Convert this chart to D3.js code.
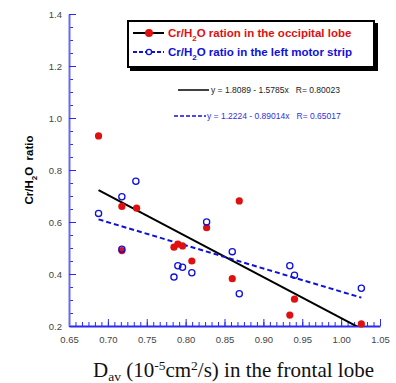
<!DOCTYPE html>
<html>
<head>
<meta charset="utf-8">
<script src="https://cdn.jsdelivr.net/npm/d3@7"></script>
<style>
  body { margin: 0; background: #fff; }
  text { font-family: "Liberation Sans", Arial, sans-serif; }
</style>
</head>
<body>
<div id="chart"></div>
<script>
// occipital lobe (red, filled)
const occX = [0.688, 0.718, 0.737, 0.718, 0.785, 0.790, 0.796, 0.808, 0.827, 0.869, 0.860, 0.940, 0.934, 1.026]
const occY = [0.931, 0.660, 0.653, 0.490, 0.503, 0.515, 0.508, 0.450, 0.578, 0.681, 0.382, 0.303, 0.242, 0.208]
// left motor strip (blue, open)
const motX = [0.688, 0.718, 0.736, 0.718, 0.785, 0.790, 0.796, 0.808, 0.827, 0.860, 0.869, 0.934, 0.940, 1.026]
const motY = [0.633, 0.697, 0.757, 0.495, 0.388, 0.432, 0.426, 0.405, 0.600, 0.486, 0.324, 0.432, 0.395, 0.345]

// fits: y = a - b x
const fitOcc = [1.8089, 1.5785]
const fitMot = [1.2224, 0.89014]

const xTicks = [0.65, 0.70, 0.75, 0.80, 0.85, 0.90, 0.95, 1.00, 1.05]
const yTicks = [0.2, 0.4, 0.6, 0.8, 1.0, 1.2, 1.4]

const width = 396
const height = 383

const svg = d3.select("#chart").append("svg")
  .attr("width", width)
  .attr("height", height)

const x = d3.scaleLinear().domain([0.65, 1.05]).range([69, 380])
const y = d3.scaleLinear().domain([0.2, 1.4]).range([326, 14])

const axisBlue = "#2a2af0"

// minor ticks
const xMinor = d3.range(0, 49).map(i => 0.65 + i * 0.05 / 6)
const yMinor = d3.range(0, 25).map(i => 0.2 + i * 0.05)

svg.append("g")
  .attr("transform", "translate(0,326)")
  .call(d3.axisBottom(x).tickValues(xMinor).tickFormat("").tickSize(-4).tickSizeOuter(0))
  .call(g => g.select(".domain").remove())
  .selectAll("line").attr("stroke", axisBlue)

svg.append("g")
  .attr("transform", "translate(69,0)")
  .call(d3.axisLeft(y).tickValues(yMinor).tickFormat("").tickSize(-4).tickSizeOuter(0))
  .call(g => g.select(".domain").remove())
  .selectAll("line").attr("stroke", axisBlue)

// major axes
const xAxis = svg.append("g")
  .attr("transform", "translate(0,326)")
  .call(d3.axisBottom(x).tickValues(xTicks).tickFormat(d3.format(".2f")).tickSize(-7).tickSizeOuter(0).tickPadding(10))
xAxis.select(".domain").attr("stroke", axisBlue).attr("stroke-width", 2)
xAxis.selectAll("line").attr("stroke", axisBlue)
xAxis.selectAll("text").attr("fill", "#444").style("font-size", "9.5px")

const yAxis = svg.append("g")
  .attr("transform", "translate(69,0)")
  .call(d3.axisLeft(y).tickValues(yTicks).tickFormat(d3.format(".1f")).tickSize(-7).tickSizeOuter(0).tickPadding(7))
yAxis.select(".domain").attr("stroke", "#6a6af0").attr("stroke-width", 2)
yAxis.selectAll("line").attr("stroke", axisBlue)
yAxis.selectAll("text").attr("fill", "#444").style("font-size", "9.5px")

// plot area clip
svg.append("clipPath").attr("id", "plot")
  .append("rect").attr("x", 69).attr("y", 14).attr("width", 311).attr("height", 312)

const line = d3.line().x(d => x(d[0])).y(d => y(d[1]))
const xmin = d3.min(occX), xmax = d3.max(occX)

svg.append("path")
  .attr("clip-path", "url(#plot)")
  .datum([[xmin, fitOcc[0] - fitOcc[1] * xmin], [xmax, fitOcc[0] - fitOcc[1] * xmax]])
  .attr("d", line)
  .attr("fill", "none").attr("stroke", "#000").attr("stroke-width", 2)

svg.append("path")
  .attr("clip-path", "url(#plot)")
  .datum([[xmin, fitMot[0] - fitMot[1] * xmin], [xmax, fitMot[0] - fitMot[1] * xmax]])
  .attr("d", line)
  .attr("fill", "none").attr("stroke", "#1010dd").attr("stroke-width", 2)
  .attr("stroke-dasharray", "5,3")

// points
svg.append("g").selectAll("circle")
  .data(occX.map((d, i) => [d, occY[i]]))
  .enter().append("circle")
  .attr("cx", d => x(d[0])).attr("cy", d => y(d[1]))
  .attr("r", 3.6)
  .attr("fill", "#e01010")

svg.append("g").selectAll("circle")
  .data(motX.map((d, i) => [d, motY[i]]))
  .enter().append("circle")
  .attr("cx", d => x(d[0])).attr("cy", d => y(d[1]))
  .attr("r", 3.1)
  .attr("fill", "none")
  .attr("stroke", "#1010dd").attr("stroke-width", 1.3)

// legend
svg.append("rect").attr("x", 130).attr("y", 23).attr("width", 248).attr("height", 48).attr("fill", "#000")
svg.append("rect").attr("x", 128).attr("y", 21).attr("width", 246).attr("height", 46)
  .attr("fill", "#fff").attr("stroke", "#000").attr("stroke-width", 2)

const legendRows = [
  { label: "ration in the occipital lobe", color: "#e01010", y: 33, dash: null, filled: true },
  { label: "ratio in the left motor strip", color: "#1010dd", y: 52, dash: "4,2", filled: false }
]
legendRows.forEach(r => {
  svg.append("line").attr("x1", 133).attr("x2", 164).attr("y1", r.y).attr("y2", r.y)
    .attr("stroke", r.filled ? "#000" : r.color).attr("stroke-width", 2)
    .attr("stroke-dasharray", r.dash)
  svg.append("circle").attr("cx", 149).attr("cy", r.y)
    .attr("r", r.filled ? 3.3 : 2.6)
    .attr("fill", r.filled ? r.color : "#fff")
    .attr("stroke", r.color).attr("stroke-width", 1.3)
  const t = svg.append("text").attr("x", 168).attr("y", r.y + 4)
    .attr("fill", r.color).style("font-size", "11.5px").style("font-weight", "bold")
  t.append("tspan").text("Cr/H")
  t.append("tspan").attr("dy", 4).style("font-size", "8px").text("2")
  t.append("tspan").attr("dy", -4).text("O " + r.label)
})

// fit equations
svg.append("line").attr("x1", 178).attr("x2", 209).attr("y1", 90).attr("y2", 90)
  .attr("stroke", "#000").attr("stroke-width", 1.5)
svg.append("text").attr("x", 211).attr("y", 93).attr("fill", "#222").style("font-size", "8.5px")
  .attr("xml:space", "preserve")
  .text("y = " + fitOcc[0] + " - " + fitOcc[1] + "x   R= 0.80023")

svg.append("line").attr("x1", 174).attr("x2", 206).attr("y1", 116).attr("y2", 116)
  .attr("stroke", "#1010dd").attr("stroke-width", 1.5).attr("stroke-dasharray", "4,2")
svg.append("text").attr("x", 207).attr("y", 119).attr("fill", "#3030dd").style("font-size", "8.5px")
  .attr("xml:space", "preserve")
  .text("y = " + fitMot[0] + " - " + fitMot[1] + "x   R= 0.65017")

// y label
const yl = svg.append("text")
  .attr("transform", "translate(33,170) rotate(-90)")
  .attr("text-anchor", "middle")
  .style("font-size", "11.5px").style("font-weight", "bold").attr("fill", "#000")
yl.append("tspan").text("Cr/H")
yl.append("tspan").attr("dy", 4).style("font-size", "8px").text("2")
yl.append("tspan").attr("dy", -4).attr("xml:space", "preserve").text("O  ratio")

// x label
const xl = svg.append("text")
  .attr("x", 93).attr("y", 377)
  .style("font-family", "'Liberation Serif', 'Times New Roman', serif")
  .style("font-size", "21px").attr("fill", "#111")
xl.append("tspan").text("D")
xl.append("tspan").attr("dy", 4).style("font-size", "13.5px").text("av")
xl.append("tspan").attr("dy", -4).text(" (10")
xl.append("tspan").attr("dy", -7).style("font-size", "13.5px").text("-5")
xl.append("tspan").attr("dy", 7).text("cm")
xl.append("tspan").attr("dy", -7).style("font-size", "13.5px").text("2")
xl.append("tspan").attr("dy", 7).text("/s) in the frontal lobe")
</script>
</body>
</html>
